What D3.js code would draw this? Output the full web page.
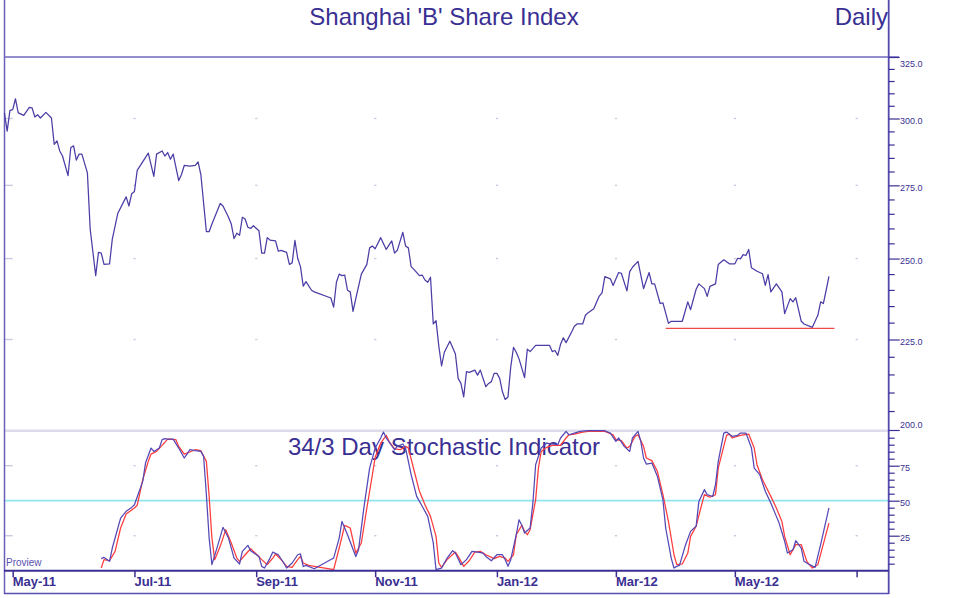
<!DOCTYPE html>
<html><head><meta charset="utf-8">
<script src="https://cdn.jsdelivr.net/npm/d3@7"></script>
<style>html,body{margin:0;padding:0;background:#fff;}svg{display:block;font-family:"Liberation Sans",Arial,sans-serif;}</style>
</head><body><svg id="c" width="956" height="598"></svg>
<script>
// ---------- DATA ----------
const priceDates = ["2011-04-27","2011-04-28","2011-04-29","2011-05-02","2011-05-03","2011-05-04","2011-05-06","2011-05-10","2011-05-11","2011-05-12","2011-05-13","2011-05-16","2011-05-18","2011-05-20","2011-05-23","2011-05-24","2011-05-25","2011-05-26","2011-05-30","2011-05-31","2011-06-01","2011-06-02","2011-06-03","2011-06-06","2011-06-08","2011-06-09","2011-06-13","2011-06-14","2011-06-15","2011-06-16","2011-06-20","2011-06-21","2011-06-23","2011-06-28","2011-06-29","2011-06-30","2011-07-01","2011-07-04","2011-07-08","2011-07-12","2011-07-13","2011-07-15","2011-07-18","2011-07-19","2011-07-20","2011-07-21","2011-07-25","2011-07-26","2011-07-27","2011-07-29","2011-08-02","2011-08-03","2011-08-04","2011-08-08","2011-08-09","2011-08-10","2011-08-11","2011-08-15","2011-08-16","2011-08-18","2011-08-19","2011-08-22","2011-08-23","2011-08-24","2011-08-25","2011-08-26","2011-08-29","2011-08-30","2011-08-31","2011-09-02","2011-09-05","2011-09-06","2011-09-07","2011-09-08","2011-09-12","2011-09-13","2011-09-14","2011-09-16","2011-09-19","2011-09-20","2011-09-21","2011-09-22","2011-09-23","2011-09-26","2011-09-27","2011-09-29","2011-09-30","2011-10-10","2011-10-11","2011-10-12","2011-10-13","2011-10-14","2011-10-17","2011-10-18","2011-10-19","2011-10-20","2011-10-21","2011-10-25","2011-10-27","2011-10-28","2011-10-31","2011-11-01","2011-11-03","2011-11-07","2011-11-09","2011-11-10","2011-11-11","2011-11-15","2011-11-16","2011-11-17","2011-11-18","2011-11-21","2011-11-23","2011-11-24","2011-11-25","2011-11-28","2011-11-29","2011-11-30","2011-12-01","2011-12-02","2011-12-05","2011-12-06","2011-12-08","2011-12-09","2011-12-12","2011-12-13","2011-12-14","2011-12-15","2011-12-16","2011-12-19","2011-12-21","2011-12-22","2011-12-23","2011-12-27","2011-12-28","2011-12-29","2011-12-30","2012-01-02","2012-01-03","2012-01-04","2012-01-05","2012-01-06","2012-01-09","2012-01-10","2012-01-11","2012-01-12","2012-01-16","2012-01-17","2012-01-18","2012-01-20","2012-01-27","2012-01-30","2012-01-31","2012-02-01","2012-02-02","2012-02-03","2012-02-06","2012-02-08","2012-02-09","2012-02-10","2012-02-14","2012-02-15","2012-02-16","2012-02-20","2012-02-22","2012-02-23","2012-02-24","2012-02-28","2012-02-29","2012-03-02","2012-03-05","2012-03-07","2012-03-08","2012-03-09","2012-03-13","2012-03-15","2012-03-19","2012-03-20","2012-03-21","2012-03-23","2012-03-26","2012-03-28","2012-03-29","2012-04-04","2012-04-06","2012-04-09","2012-04-11","2012-04-12","2012-04-16","2012-04-17","2012-04-18","2012-04-20","2012-04-23","2012-04-25","2012-04-27","2012-05-01","2012-05-02","2012-05-03","2012-05-04","2012-05-07","2012-05-08","2012-05-09","2012-05-11","2012-05-15","2012-05-16","2012-05-17","2012-05-18","2012-05-22","2012-05-24","2012-05-25","2012-05-29","2012-05-30","2012-05-31","2012-06-04","2012-06-05","2012-06-08","2012-06-12","2012-06-13","2012-06-14","2012-06-15","2012-06-18"];
const priceValues = [302.2,295.1,303.2,303.5,307.8,302.2,301.2,304.4,304.2,300.6,301.5,300.2,302.4,300.2,290.1,291.4,287.6,285.7,278.5,288.9,289.5,284.2,286.4,286.4,279.5,259.8,244.5,252.0,251.8,248.1,248.3,256.4,265.2,270.9,267.7,272.0,272.8,280.4,286.8,278.2,286.4,287.6,285.7,287.0,284.5,286.4,276.7,278.9,282.2,282.0,282.2,283.5,278.9,258.9,258.9,261.5,263.8,268.6,267.7,263.8,261.5,256.6,258.4,257.7,263.8,263.2,260.4,260.0,260.9,259.2,251.8,251.8,256.9,256.1,255.8,252.4,252.7,252.0,248.1,248.6,256.0,250.1,247.4,241.2,242.6,239.9,239.4,237.5,234.7,242.4,245.0,244.5,244.7,239.9,239.4,233.4,237.3,245.0,248.1,253.5,254.1,253.2,256.9,253.0,255.8,251.8,252.7,258.7,254.1,253.5,247.4,246.5,244.5,244.7,243.1,242.4,244.0,229.6,230.6,223.1,217.4,221.3,224.5,222.7,220.8,213.9,212.5,208.8,215.8,215.6,216.2,214.8,216.2,211.6,212.5,213.0,215.3,215.3,213.9,210.2,208.1,208.8,217.1,222.7,221.3,219.4,214.1,222.2,221.5,223.3,223.3,221.5,221.8,220.4,223.6,225.5,224.1,227.2,228.9,229.6,229.6,232.2,233.0,234.2,238.1,239.1,244.2,243.5,241.4,245.5,245.2,239.7,245.8,247.2,249.1,240.4,245.5,241.9,241.9,235.8,236.0,229.8,230.4,230.4,236.3,233.9,240.2,241.9,240.4,238.0,241.1,241.9,248.1,249.6,248.3,248.3,250.1,249.9,251.3,251.0,253.0,247.0,245.9,245.1,241.4,244.8,239.4,241.9,239.4,232.7,237.3,236.3,237.6,230.4,229.6,228.6,232.2,236.3,235.8,239.9,244.3];

const kDates = ["2011-06-15","2011-06-16","2011-06-20","2011-06-21","2011-06-24","2011-06-28","2011-06-30","2011-07-01","2011-07-06","2011-07-07","2011-07-11","2011-07-12","2011-07-14","2011-07-15","2011-07-18","2011-07-19","2011-07-21","2011-07-25","2011-07-27","2011-07-28","2011-07-29","2011-08-02","2011-08-04","2011-08-05","2011-08-08","2011-08-09","2011-08-10","2011-08-12","2011-08-16","2011-08-18","2011-08-22","2011-08-24","2011-08-25","2011-08-29","2011-08-30","2011-09-02","2011-09-05","2011-09-06","2011-09-08","2011-09-09","2011-09-13","2011-09-15","2011-09-16","2011-09-20","2011-09-22","2011-09-23","2011-09-26","2011-09-27","2011-09-30","2011-10-10","2011-10-11","2011-10-13","2011-10-14","2011-10-18","2011-10-21","2011-10-24","2011-10-26","2011-10-28","2011-11-01","2011-11-03","2011-11-04","2011-11-07","2011-11-10","2011-11-11","2011-11-15","2011-11-16","2011-11-18","2011-11-22","2011-11-24","2011-11-28","2011-11-30","2011-12-01","2011-12-05","2011-12-07","2011-12-09","2011-12-12","2011-12-14","2011-12-16","2011-12-20","2011-12-22","2011-12-26","2011-12-27","2011-12-29","2012-01-02","2012-01-04","2012-01-05","2012-01-06","2012-01-09","2012-01-11","2012-01-12","2012-01-13","2012-01-16","2012-01-18","2012-01-19","2012-01-20","2012-01-24","2012-01-26","2012-01-30","2012-02-01","2012-02-02","2012-02-06","2012-02-07","2012-02-09","2012-02-13","2012-02-16","2012-02-24","2012-02-28","2012-03-01","2012-03-02","2012-03-06","2012-03-08","2012-03-09","2012-03-13","2012-03-14","2012-03-15","2012-03-16","2012-03-20","2012-03-22","2012-03-26","2012-03-27","2012-03-29","2012-03-30","2012-04-02","2012-04-03","2012-04-05","2012-04-09","2012-04-11","2012-04-12","2012-04-16","2012-04-17","2012-04-19","2012-04-20","2012-04-23","2012-04-25","2012-04-26","2012-04-30","2012-05-02","2012-05-03","2012-05-07","2012-05-09","2012-05-10","2012-05-14","2012-05-16","2012-05-18","2012-05-22","2012-05-23","2012-05-25","2012-05-28","2012-05-30","2012-05-31","2012-06-04","2012-06-05","2012-06-07","2012-06-11","2012-06-13","2012-06-18"];
const kValues = [8.6,9.5,6.7,16.2,37.6,42.4,45.2,47.1,63.8,76.9,87.6,85.2,87.6,93.6,94.3,94.0,94.0,87.6,80.5,83.3,86.4,85.7,85.2,81.7,54.3,23.3,4.3,17.4,31.0,23.3,9.0,4.8,13.8,18.1,14.3,10.2,3.1,1.9,9.0,13.3,11.4,5.5,1.9,5.5,11.4,12.0,3.0,3.8,1.4,8.0,9.0,23.3,35.2,25.7,10.2,15.0,46.0,73.3,87.6,94.8,99.0,94.8,86.4,88.8,90.5,87.6,68.6,53.1,46.0,38.8,19.8,0.7,1.9,9.0,14.3,12.6,4.3,7.9,13.8,13.3,12.6,10.2,7.1,11.4,11.4,7.9,3.1,7.9,25.7,36.4,32.4,26.9,30.5,48.3,75.7,87.6,91.2,90.5,90.0,94.8,99.5,97.1,98.3,99.5,100,100,98.3,92.4,94.8,88.8,85.2,94.8,99.5,92.4,80.5,76.2,76.9,67.4,50.7,30.5,9.0,1.9,3.1,3.8,17.4,28.1,31.7,49.5,57.9,54.3,53.0,61.4,78.1,98.3,99.0,96.0,96.7,98.3,98.3,87.6,73.3,68.6,56.7,48.3,38.8,34.0,21.0,12.6,15.0,21.4,16.2,6.7,4.3,2.4,18.6,44.8];

const dDates = ["2011-06-15","2011-06-16","2011-06-20","2011-06-22","2011-06-24","2011-06-28","2011-07-01","2011-07-04","2011-07-06","2011-07-08","2011-07-11","2011-07-13","2011-07-15","2011-07-19","2011-07-22","2011-07-25","2011-07-27","2011-07-29","2011-08-02","2011-08-04","2011-08-08","2011-08-09","2011-08-10","2011-08-11","2011-08-15","2011-08-17","2011-08-19","2011-08-23","2011-08-24","2011-08-26","2011-08-30","2011-09-01","2011-09-05","2011-09-07","2011-09-09","2011-09-12","2011-09-14","2011-09-16","2011-09-20","2011-09-22","2011-09-23","2011-09-26","2011-09-28","2011-09-30","2011-10-10","2011-10-11","2011-10-13","2011-10-17","2011-10-19","2011-10-21","2011-10-25","2011-10-27","2011-10-31","2011-11-01","2011-11-03","2011-11-07","2011-11-08","2011-11-10","2011-11-14","2011-11-16","2011-11-17","2011-11-21","2011-11-23","2011-11-25","2011-11-29","2011-12-01","2011-12-02","2011-12-05","2011-12-07","2011-12-12","2011-12-13","2011-12-15","2011-12-19","2011-12-21","2011-12-23","2011-12-27","2011-12-30","2012-01-03","2012-01-05","2012-01-06","2012-01-10","2012-01-11","2012-01-13","2012-01-16","2012-01-17","2012-01-18","2012-01-20","2012-01-23","2012-01-24","2012-01-26","2012-01-30","2012-02-02","2012-02-06","2012-02-07","2012-02-09","2012-02-14","2012-02-16","2012-02-24","2012-02-29","2012-03-01","2012-03-05","2012-03-07","2012-03-08","2012-03-12","2012-03-13","2012-03-15","2012-03-16","2012-03-20","2012-03-22","2012-03-26","2012-03-28","2012-03-30","2012-04-02","2012-04-04","2012-04-06","2012-04-09","2012-04-11","2012-04-13","2012-04-16","2012-04-18","2012-04-20","2012-04-23","2012-04-26","2012-04-27","2012-04-30","2012-05-03","2012-05-08","2012-05-10","2012-05-11","2012-05-15","2012-05-18","2012-05-22","2012-05-24","2012-05-25","2012-05-29","2012-05-31","2012-06-04","2012-06-06","2012-06-08","2012-06-12","2012-06-18"];
const dValues = [1.9,7.9,7.1,13.8,30.5,40.5,44.8,46.7,65.0,78.1,83.3,85.2,89.5,94.0,93.6,88.8,83.3,84.8,86.4,85.7,78.1,53.1,23.3,7.9,17.4,29.3,19.8,9.0,6.7,11.4,15.7,11.9,7.9,4.3,9.0,11.9,7.9,3.1,2.4,7.9,10.2,5.5,3.8,3.1,1.2,0.7,16.2,32.4,30.5,12.6,19.8,44.8,68.6,81.0,91.2,96.7,92.4,87.1,86.4,88.8,87.6,72.1,56.7,47.1,38.8,24.5,5.5,2.4,7.9,13.3,10.2,3.1,7.1,13.3,13.8,11.4,8.6,10.2,9.0,6.7,11.4,25.7,32.4,28.1,25.7,29.3,50.7,73.3,85.2,88.1,89.5,89.5,94.8,97.1,97.6,99.0,99.5,99.5,97.1,93.6,92.9,87.6,88.8,96.0,97.1,88.8,80.5,78.6,71.0,54.3,35.2,11.4,4.3,4.8,12.6,24.5,31.7,47.1,54.3,52.5,54.3,73.3,96.7,97.6,94.8,96.7,97.6,87.6,75.7,65.0,53.1,44.8,35.2,24.5,11.4,18.6,18.6,6.7,1.9,4.3,34.0];

const supportDates = ["2012-03-27","2012-06-20"];
const supportValue = 228.3;

const priceTicks = [325,300,275,250,225,200];
const priceTickLabels = ["325.0","300.0","275.0","250.0","225.0","200.0"];
const stochTicks = [75,50,25];
const stochTickLabels = ["75","50","25"];
const monthTicks = ["2011-05-01","2011-07-01","2011-09-01","2011-11-01","2012-01-01","2012-03-01","2012-05-01","2012-07-01"];
const monthLabels = ["May-11","Jul-11","Sep-11","Nov-11","Jan-12","Mar-12","May-12",""];
const titleText = "Shanghai 'B' Share Index";
const periodText = "Daily";
const stochTitle = "34/3 Day Stochastic Indicator";
const vendorText = "Proview";

// ---------- SCALES ----------
const parse = d3.utcParse("%Y-%m-%d");
const base = parse("2011-05-02");
function wd(s){ // weekday index relative to base Monday
  const days = Math.round((parse(s) - base) / 864e5);
  const w = Math.floor(days / 7), r = days - 7 * w;
  return 5 * w + Math.min(r, 5);
}
const x = d3.scaleLinear().domain([wd(monthTicks[0]), wd(monthTicks[monthTicks.length-1])]).range([12.7, 856.6]);
const yP = d3.scaleLog().domain([200, 325]).range([430, 57]);
const yS = d3.scaleLinear().domain([0, 100]).range([570.7, 430.7]);

const AX = "#3a2f92";
const svg = d3.select("#c");
svg.append("rect").attr("width",956).attr("height",598).attr("fill","#fff");

// grid marks
const gridG = svg.append("g").attr("fill","#c9c9e2");
const levelsY = [300,275,250,225].map(v=>yP(v)).concat([75,25].map(v=>yS(v)));
monthTicks.forEach((m,i)=>{
  const mx = x(wd(m));
  levelsY.forEach(ly=>{
    if(i===0) gridG.append("rect").attr("x",4).attr("y",ly-0.7).attr("width",mx-4).attr("height",1.4);
    else gridG.append("rect").attr("x",mx-1).attr("y",ly-0.7).attr("width",2.2).attr("height",1.4);
  });
});

// reference lines in stochastic panel
svg.append("line").attr("x1",4).attr("x2",888.7).attr("y1",yS(100)).attr("y2",yS(100)).attr("stroke","#dcdcec").attr("stroke-width",2.5);
svg.append("line").attr("x1",4).attr("x2",888.7).attr("y1",yS(50)).attr("y2",yS(50)).attr("stroke","#92e6f2").attr("stroke-width",1.8);

// frame
svg.append("line").attr("x1",4.5).attr("x2",4.5).attr("y1",0).attr("y2",594).attr("stroke","#6a60bc").attr("stroke-width",1.5);
svg.append("line").attr("x1",4).attr("x2",889).attr("y1",593.5).attr("y2",593.5).attr("stroke","#5a4fb5").attr("stroke-width",1.5);
svg.append("line").attr("x1",4).attr("x2",899).attr("y1",yP(325)).attr("y2",yP(325)).attr("stroke","#7068c0").attr("stroke-width",1.3);

// titles
svg.append("text").attr("x",444).attr("y",25).attr("text-anchor","middle").attr("font-size",24).attr("fill",AX).text(titleText);
svg.append("text").attr("x",888).attr("y",25).attr("text-anchor","end").attr("font-size",24).attr("fill",AX).text(periodText);
svg.append("text").attr("x",444).attr("y",454.5).attr("text-anchor","middle").attr("font-size",24).attr("fill",AX).text(stochTitle);
svg.append("text").attr("x",6).attr("y",565.5).attr("font-size",10).attr("fill","#5a50b0").text(vendorText);

// series
const px = d => x(wd(d));
const priceLine = d3.line().x(d=>px(d[0])).y(d=>yP(d[1]));
svg.append("path").datum(d3.zip(priceDates, priceValues)).attr("d",priceLine).attr("fill","none").attr("stroke","#4a3da6").attr("stroke-width",1.25).attr("stroke-linejoin","round");
svg.append("path").datum(supportDates.map(d=>[d,supportValue])).attr("d",priceLine).attr("fill","none").attr("stroke","#ee4a4a").attr("stroke-width",1.2);

const stLine = d3.line().x(d=>px(d[0])).y(d=>yS(d[1]));
svg.append("path").datum(d3.zip(dDates, dValues)).attr("d",stLine).attr("fill","none").attr("stroke","#ff3b3b").attr("stroke-width",1.25).attr("stroke-linejoin","round");
svg.append("path").datum(d3.zip(kDates, kValues)).attr("d",stLine).attr("fill","none").attr("stroke","#5448b6").attr("stroke-width",1.25).attr("stroke-linejoin","round");

// right axis
const RX = 888.7;
svg.append("line").attr("x1",RX).attr("x2",RX).attr("y1",0).attr("y2",594).attr("stroke","#5548b0").attr("stroke-width",1.8);
const minorP = d3.range(205, 325, 5).filter(v=>v%25!==0);
const gP = svg.append("g").attr("transform",`translate(${RX},0)`).call(d3.axisRight(yP).tickValues(minorP).tickSize(6).tickFormat(""));
const gPM = svg.append("g").attr("transform",`translate(${RX},0)`).call(d3.axisRight(yP).tickValues(priceTicks).tickSize(11).tickFormat(""));
const minorS = d3.range(5, 100, 5).filter(v=>v%25!==0);
const gS = svg.append("g").attr("transform",`translate(${RX},0)`).call(d3.axisRight(yS).tickValues(minorS).tickSize(6).tickFormat(""));
const gSM = svg.append("g").attr("transform",`translate(${RX},0)`).call(d3.axisRight(yS).tickValues(stochTicks).tickSize(11).tickFormat(""));
[gP,gPM,gS,gSM].forEach(g=>{ g.select(".domain").remove(); g.selectAll("line").attr("stroke",AX).attr("stroke-width",1.2); });

priceTicks.forEach((v,i)=>{
  const ty = Math.min(Math.max(yP(v)+5.5, 67.3), 428.3);
  svg.append("text").attr("x",900).attr("y",ty).attr("font-size",9).attr("fill",AX).text(priceTickLabels[i]);
});
stochTicks.forEach((v,i)=>{
  svg.append("text").attr("x",900).attr("y",yS(v)+4.8).attr("font-size",9).attr("fill",AX).text(stochTickLabels[i]);
});

// bottom axis
svg.append("line").attr("x1",4).attr("x2",RX).attr("y1",570.7).attr("y2",570.7).attr("stroke",AX).attr("stroke-width",2);
const gB = svg.append("g").attr("transform","translate(0,570.7)").call(d3.axisBottom(x).tickValues(monthTicks.map(wd)).tickSize(6.5).tickFormat(""));
gB.select(".domain").remove();
gB.selectAll("line").attr("stroke",AX).attr("stroke-width",1.5);
monthTicks.forEach((m,i)=>{
  svg.append("text").attr("x",x(wd(m))).attr("y",586).attr("font-size",13).attr("font-weight","bold").attr("fill",AX).text(monthLabels[i]);
});
</script></body></html>
